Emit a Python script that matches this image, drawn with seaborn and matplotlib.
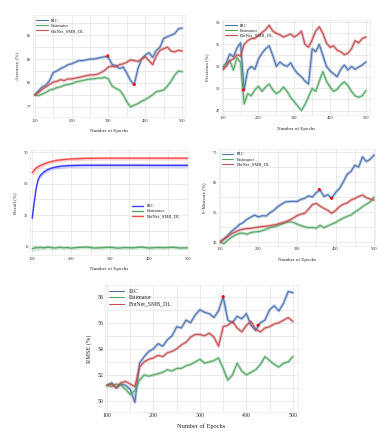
import numpy as np
import matplotlib
matplotlib.use("Agg")
import matplotlib.pyplot as plt
from matplotlib.ticker import AutoMinorLocator
import seaborn as sns

epochs = list(range(100, 510, 10))
labels = ["IRC", "Estimator", "BotNet_SMB_DL"]

acc_irc = [78.5, 79.0, 79.5, 79.7, 80.3, 81.3, 81.5, 81.8, 82.0, 82.3, 82.4, 82.6, 82.8, 82.8,
           82.9, 83.0, 83.0, 83.1, 83.2, 83.3, 83.2, 82.3, 82.2, 81.8, 82.0, 81.2, 80.3, 79.8,
           81.8, 83.0, 83.5, 83.8, 83.2, 84.1, 84.5, 85.6, 85.8, 86.0, 86.2, 86.8, 86.9]
acc_est = [78.5, 78.4, 78.6, 78.8, 79.1, 79.2, 79.4, 79.5, 79.7, 79.8, 79.9, 80.1, 80.2, 80.3,
           80.4, 80.5, 80.5, 80.6, 80.6, 80.7, 80.5, 79.6, 79.3, 79.1, 78.5, 77.6, 77.0, 77.2,
           77.4, 77.7, 77.9, 78.2, 78.5, 78.9, 79.0, 79.1, 79.6, 80.2, 81.0, 81.5, 81.4]
acc_bot = [78.5, 78.8, 79.2, 79.5, 79.8, 80.1, 80.2, 80.4, 80.3, 80.5, 80.5, 80.6, 80.7, 80.8,
           80.9, 81.0, 81.0, 81.1, 81.3, 81.6, 82.0, 82.1, 82.0, 82.3, 82.4, 82.6, 82.9, 82.8,
           82.7, 83.0, 83.3, 82.8, 82.3, 83.4, 84.1, 84.3, 84.5, 84.0, 83.9, 84.1, 84.0]
acc_mark_x = [298, 370]
acc_mark_y = [83.4, 79.8]

prec_irc = [52.7, 53.5, 54.7, 54.3, 55.5, 56.2, 49.8, 52.5, 53.0, 52.6, 54.0, 54.8, 55.4, 55.8,
            54.5, 53.0, 53.6, 53.2, 53.0, 53.5, 52.6, 52.0, 51.6, 51.0, 50.6, 55.4, 55.0, 56.0,
            54.5, 53.0, 52.4, 52.0, 51.6, 52.6, 53.2, 52.5, 53.0, 52.6, 52.9, 53.2, 53.6]
prec_est = [53.0, 53.3, 53.8, 52.5, 54.2, 53.5, 47.9, 49.3, 49.0, 49.8, 50.3, 49.6, 50.2, 50.6,
            49.8, 49.3, 49.6, 50.2, 49.6, 48.8, 48.2, 47.6, 47.0, 47.8, 48.9, 50.0, 49.6, 51.0,
            52.3, 51.0, 50.2, 49.6, 49.9, 50.5, 50.9, 50.4, 49.6, 49.0, 48.8, 49.0, 49.7]
prec_bot = [52.5, 53.0, 53.8, 54.0, 54.6, 54.4, 56.0, 56.5, 56.8, 56.8, 57.2, 57.6, 58.0, 58.6,
            57.8, 57.5, 57.3, 57.0, 57.2, 57.4, 57.0, 57.3, 57.8, 56.0, 55.6, 56.6, 57.8, 58.4,
            57.5, 56.2, 55.6, 55.8, 55.2, 55.0, 54.6, 54.8, 55.4, 56.5, 56.2, 56.8, 57.0]
prec_mark_x = [158]
prec_mark_y = [49.8]

rec_epochs = [100, 105, 110, 115, 120, 130, 140, 150, 160, 170, 180, 190, 200, 220, 240, 260,
              280, 300, 320, 340, 360, 380, 400, 420, 440, 460, 480, 500]
rec_irc = [28.0, 38.0, 47.0, 52.5, 55.0, 57.5, 59.0, 60.0, 60.6, 61.0, 61.3, 61.5, 61.6, 61.7,
           61.8, 61.8, 61.8, 61.8, 61.8, 61.8, 61.8, 61.8, 61.7, 61.7, 61.7, 61.7, 61.7, 61.7]
rec_bot = [57.0, 58.6, 60.0, 60.8, 61.5, 62.6, 63.5, 64.2, 64.8, 65.1, 65.4, 65.6, 65.8, 66.0,
           66.2, 66.2, 66.3, 66.3, 66.3, 66.3, 66.3, 66.3, 66.3, 66.3, 66.3, 66.3, 66.3, 66.3]
rec_est = [8.6, 8.9, 9.3, 9.0, 9.4, 9.1, 9.6, 9.2, 9.0, 9.5, 9.1, 9.3, 8.9, 9.4, 9.6, 9.0,
           9.2, 9.5, 8.9, 9.3, 9.1, 9.6, 9.0, 9.3, 9.2, 9.5, 9.0, 9.1]
rec_band = [2.2, 2.0, 1.8, 1.6, 1.5, 1.4, 1.3, 1.2, 1.2, 1.2, 1.2, 1.2, 1.2, 1.2,
            1.2, 1.2, 1.2, 1.2, 1.2, 1.2, 1.2, 1.2, 1.2, 1.2, 1.2, 1.2, 1.2, 1.2]

f_irc = [45.0, 46.0, 47.2, 48.6, 49.6, 50.8, 51.5, 52.6, 53.3, 54.0, 53.4, 53.8, 53.7, 54.8,
         55.6, 56.8, 57.6, 58.4, 58.5, 58.6, 58.5, 59.2, 59.6, 60.4, 60.0, 61.5, 62.3, 60.2,
         60.8, 59.6, 61.5, 62.8, 65.0, 67.5, 68.5, 70.6, 70.0, 73.4, 71.8, 72.6, 74.0]
f_est = [45.0, 44.5, 45.6, 46.6, 47.4, 47.9, 48.0, 47.6, 48.2, 48.4, 48.5, 48.8, 49.3, 49.8,
         50.1, 50.5, 51.0, 51.4, 51.8, 51.6, 51.0, 50.5, 50.1, 49.8, 49.9, 49.6, 50.6, 49.8,
         50.4, 51.0, 51.5, 52.3, 53.0, 53.6, 54.0, 55.0, 55.8, 56.8, 57.6, 58.4, 60.0]
f_bot = [45.0, 46.0, 46.8, 47.8, 48.4, 49.0, 49.3, 49.5, 49.6, 49.8, 50.0, 50.2, 50.3, 50.5,
         50.7, 51.0, 51.4, 51.8, 52.3, 53.0, 53.8, 54.3, 54.6, 56.0, 57.5, 57.9, 57.0, 56.2,
         55.6, 54.6, 55.5, 56.8, 57.6, 58.0, 59.0, 59.5, 60.2, 60.7, 59.8, 59.3, 59.0]
f_mark_x = [358, 390]
f_mark_y = [62.5, 59.6]

rmse_irc = [51.2, 51.4, 51.0, 51.3, 51.2, 50.9, 49.9, 52.9, 53.4, 53.8, 54.0, 54.4, 54.2, 54.7,
            55.0, 55.7, 55.6, 56.2, 56.0, 56.6, 57.0, 56.8, 56.7, 56.4, 56.9, 58.0, 56.2, 56.0,
            56.5, 56.3, 56.7, 55.8, 55.4, 56.0, 56.2, 57.0, 57.3, 56.9, 57.5, 58.4, 58.3]
rmse_est = [51.2, 51.1, 51.3, 51.2, 50.9, 50.5, 50.8, 51.6, 52.0, 51.9, 52.0, 52.1, 52.2, 52.4,
            52.3, 52.5, 52.5, 52.7, 52.8, 53.0, 53.2, 52.9, 53.0, 53.1, 53.3, 52.5, 51.6, 52.0,
            52.9, 52.3, 52.0, 52.2, 52.4, 52.8, 53.4, 53.1, 52.8, 52.6, 52.9, 53.0, 53.4]
rmse_bot = [51.2, 51.3, 51.0, 51.4, 51.5, 51.3, 51.1, 52.6, 53.0, 53.2, 53.3, 53.5, 53.4, 53.7,
            53.8, 54.0, 54.3, 54.5, 54.9, 55.1, 55.1, 55.0, 55.2, 54.9, 54.2, 55.7, 55.8, 56.1,
            55.6, 55.3, 55.8, 56.1, 55.5, 55.3, 55.6, 55.7, 55.9, 56.0, 56.2, 56.4, 56.1]
rmse_mark_x = [350, 425]
rmse_mark_y = [58.0, 55.8]

sns.set_theme(style="whitegrid")
plt.rcParams['font.family'] = ['Liberation Serif', 'DejaVu Serif']
plt.rcParams['axes.edgecolor'] = '#e6e6e6'
plt.rcParams['grid.color'] = '#e8e8e8'
plt.rcParams['grid.linewidth'] = 0.6

deep = sns.color_palette("deep")
cols = [deep[0], deep[2], deep[3]]

fig = plt.figure(figsize=(3.88, 4.37), dpi=100)


def style_axes(ax, ylabel, yticks, ylim, xlim):
    ax.set_xlim(*xlim)
    ax.set_ylim(*ylim)
    ax.set_xticks([100, 200, 300, 400, 500])
    ax.set_yticks(yticks)
    ax.xaxis.set_minor_locator(AutoMinorLocator(2))
    ax.yaxis.set_minor_locator(AutoMinorLocator(2))
    ax.grid(True, which='both')
    ax.tick_params(labelsize=3.2, pad=1, length=0)
    ax.set_xlabel("Number of Epochs", fontsize=3.6, labelpad=1)
    ax.set_ylabel(ylabel, fontsize=3.6, labelpad=2)
    for s in ax.spines.values():
        s.set_linewidth(0.4)


def noisy_panel(ax, series, mark_x, mark_y, ylabel, yticks, ylim, xlim):
    for vals, c, lab in zip(series, cols, labels):
        sns.lineplot(x=epochs, y=vals, ax=ax, color=c, lw=2.2, alpha=0.35, legend=False)
        sns.lineplot(x=epochs, y=vals, ax=ax, color=c, lw=0.8, label=lab)
    sns.scatterplot(x=mark_x, y=mark_y, ax=ax, color='red', s=5, zorder=5,
                    edgecolor='none', legend=False)
    style_axes(ax, ylabel, yticks, ylim, xlim)
    ax.legend(loc='upper left', fontsize=3.3, frameon=False, handlelength=2.5,
              borderaxespad=0.3, labelspacing=0.2)


ax1 = fig.add_axes([0.085, 0.732, 0.392, 0.233])
noisy_panel(ax1, [acc_irc, acc_est, acc_bot], acc_mark_x, acc_mark_y,
            "Accuracy (%)", [77, 80, 83, 86], (75.7, 88.5), (95, 508))

ax2 = fig.add_axes([0.572, 0.737, 0.381, 0.217])
noisy_panel(ax2, [prec_irc, prec_est, prec_bot], prec_mark_x, prec_mark_y,
            "Precision (%)", [47, 50, 53, 56, 59], (46.4, 59.3), (98, 511))

ax3 = fig.add_axes([0.077, 0.416, 0.407, 0.240])
rec_cols = ['#3b3bf5', deep[2], '#f24b4b']
for vals, c, lab in zip([rec_irc, rec_est, rec_bot], rec_cols, labels):
    lo = [v - b for v, b in zip(vals, rec_band)]
    hi = [v + b for v, b in zip(vals, rec_band)]
    ax3.fill_between(rec_epochs, lo, hi, color=c, alpha=0.25, lw=0)
    sns.lineplot(x=rec_epochs, y=vals, ax=ax3, color=c, lw=1.0, label=lab)
style_axes(ax3, "Recall (%)", [10, 30, 50, 70], (4.4, 71.3), (94, 500))
ax3.legend(loc='center right', fontsize=3.3, frameon=False, handlelength=2.5,
           bbox_to_anchor=(0.98, 0.42), labelspacing=0.2)

ax4 = fig.add_axes([0.564, 0.437, 0.402, 0.222])
noisy_panel(ax4, [f_irc, f_est, f_bot], f_mark_x, f_mark_y,
            "F-Measure (%)", [45, 55, 65, 75], (43.7, 76), (97, 502))

ax5 = fig.add_axes([0.271, 0.057, 0.497, 0.291])
noisy_panel(ax5, [rmse_irc, rmse_est, rmse_bot], rmse_mark_x, rmse_mark_y,
            "RMSE (%)", [50, 52, 54, 56, 58], (49.15, 58.9), (96, 511))
for ax in [ax5]:
    ax.tick_params(labelsize=4.2)
    ax.xaxis.label.set_size(4.6)
    ax.yaxis.label.set_size(4.6)
    ax.legend(loc='upper left', fontsize=4.2, frameon=False, handlelength=2.5,
              borderaxespad=0.3, labelspacing=0.2)

fig.savefig("out.png", dpi=100)
